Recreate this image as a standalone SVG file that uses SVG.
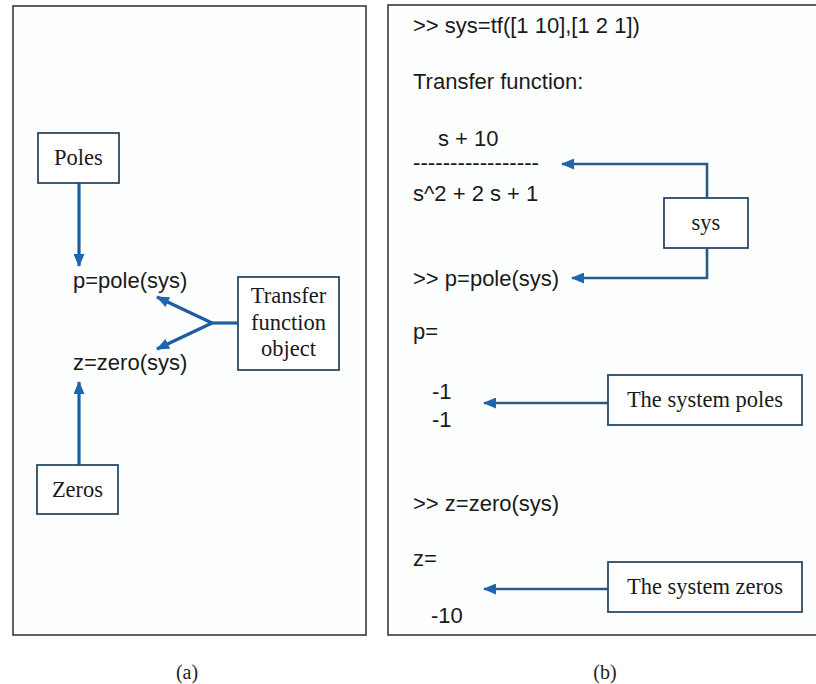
<svg xmlns="http://www.w3.org/2000/svg" width="816" height="684" viewBox="0 0 816 684">
<defs>
<style>
.panel{fill:#fdfefe;stroke:#3a3a3a;stroke-width:1.6}
.box{fill:#ffffff;stroke:#2c4a66;stroke-width:1.8}
.sans{font-family:"Liberation Sans",Arial,sans-serif;font-size:22px;fill:#1a1a1a}
.serif{font-family:"Liberation Serif","Times New Roman",serif;font-size:22.5px;fill:#1a1a1a}
.cap{font-family:"Liberation Serif","Times New Roman",serif;font-size:20px;fill:#222}
.wire{fill:none;stroke:#1f5e9e;stroke-width:3.2}
.wire2{fill:none;stroke:#2a5a8a;stroke-width:2.6}
</style>
<marker id="ah" viewBox="0 0 13 11" refX="12" refY="5.5" markerWidth="13" markerHeight="11" markerUnits="userSpaceOnUse" orient="auto">
<path d="M0,0 L13,5.5 L0,11 Z" fill="#1f66b0"/>
</marker>
</defs>
<rect width="816" height="684" fill="#ffffff"/>

<g id="panel-a">
<rect class="panel" x="13" y="6" width="353" height="629"/>
</g>
<g id="panel-b">
<rect class="panel" x="388" y="5" width="440" height="630"/>
</g>

<g id="connectors">
<line class="wire" x1="79" y1="183" x2="79" y2="266" marker-end="url(#ah)"/>
<line class="wire" x1="79" y1="465" x2="79" y2="382" marker-end="url(#ah)"/>
<line class="wire" x1="238" y1="323" x2="212" y2="323"/>
<line class="wire" x1="212" y1="323" x2="157" y2="297" marker-end="url(#ah)"/>
<line class="wire" x1="212" y1="323" x2="157" y2="349" marker-end="url(#ah)"/>
<polyline class="wire2" points="707,198 707,164 562,164" marker-end="url(#ah)"/>
<polyline class="wire2" points="707,248 707,278 572,278" marker-end="url(#ah)"/>
<line class="wire2" x1="608" y1="403" x2="484" y2="403" marker-end="url(#ah)"/>
<line class="wire2" x1="608" y1="589" x2="484" y2="589" marker-end="url(#ah)"/>
</g>

<g id="poles">
<rect class="box" x="38" y="133" width="81" height="50"/>
<text class="serif" x="78.5" y="165" text-anchor="middle">Poles</text>
</g>
<g id="zeros">
<rect class="box" x="37" y="465" width="81" height="49"/>
<text class="serif" x="77.5" y="497" text-anchor="middle">Zeros</text>
</g>
<g id="tf-object">
<rect class="box" x="238" y="277" width="101" height="93"/>
<text class="serif" x="288.5" y="303" text-anchor="middle">Transfer</text>
<text class="serif" x="288.5" y="330" text-anchor="middle">function</text>
<text class="serif" x="288.5" y="356" text-anchor="middle">object</text>
</g>
<g id="pole-cmd">
<text class="sans" x="73" y="288">p=pole(sys)</text>
</g>
<g id="zero-cmd">
<text class="sans" x="73" y="370">z=zero(sys)</text>
</g>

<g id="console">
<text class="sans" x="413" y="33">&gt;&gt; sys=tf([1 10],[1 2 1])</text>
<text class="sans" x="413" y="89">Transfer function:</text>
<text class="sans" x="438" y="146">s + 10</text>
<text class="sans" x="413" y="170" textLength="126" lengthAdjust="spacingAndGlyphs">-----------------</text>
<text class="sans" x="413" y="201">s^2 + 2 s + 1</text>
<text class="sans" x="413" y="286">&gt;&gt; p=pole(sys)</text>
<text class="sans" x="413" y="339">p=</text>
<text class="sans" x="432" y="399">-1</text>
<text class="sans" x="432" y="427">-1</text>
<text class="sans" x="413" y="511">&gt;&gt; z=zero(sys)</text>
<text class="sans" x="413" y="566">z=</text>
<text class="sans" x="431" y="623">-10</text>
</g>

<g id="sys-box">
<rect class="box" x="664" y="198" width="84" height="50"/>
<text class="serif" x="706" y="230" text-anchor="middle">sys</text>
</g>
<g id="poles-box">
<rect class="box" x="608" y="375" width="194" height="50"/>
<text class="serif" x="705" y="407" text-anchor="middle">The system poles</text>
</g>
<g id="zeros-box">
<rect class="box" x="608" y="562" width="194" height="50"/>
<text class="serif" x="705" y="594" text-anchor="middle">The system zeros</text>
</g>

<text class="cap" x="187" y="679" text-anchor="middle">(a)</text>
<text class="cap" x="605" y="679" text-anchor="middle">(b)</text>
</svg>
